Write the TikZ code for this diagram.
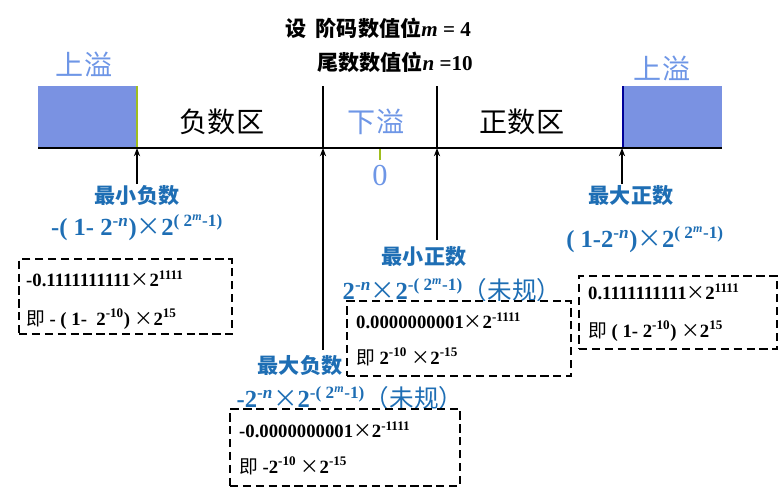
\documentclass[tikz,border=0pt]{standalone}
\usepackage{fontspec}
\setmainfont{Liberation Serif}
\newfontfamily\cjk{Noto Sans CJK SC}
\usetikzlibrary{arrows.meta}
\definecolor{dblue}{RGB}{30,110,180}
\definecolor{lblue}{RGB}{110,150,230}
\definecolor{rfill}{RGB}{122,146,226}
\definecolor{gtick}{RGB}{160,190,30}
\newcommand{\sps}[1]{\textsuperscript{#1}}
\newcommand{\tms}{{\cjk\mdseries ×}}
\tikzset{
  lbl/.style={font=\cjk\fontsize{24}{26}\selectfont},
  blbl/.style={font=\cjk\bfseries\fontsize{18}{20}\selectfont,text=dblue},
  frm/.style={font=\bfseries\fontsize{21}{23}\selectfont,text=dblue,inner sep=0pt},
  dbox/.style={draw,line width=1.8pt,dash pattern=on 7pt off 4pt,minimum width=#1,anchor=north west,inner sep=0pt},
  btx/.style={font=\bfseries\fontsize{16}{18}\selectfont,anchor=west},
  arr/.style={line width=1.4pt,-{Stealth[length=7pt]}},
}
\begin{document}
\begin{tikzpicture}[x=0.03cm,y=-0.03cm]
\useasboundingbox (0,0) rectangle (781,491);
\fill[rfill] (38,86) rectangle (137,148);
\fill[rfill] (622,86) rectangle (722,148);
\draw[gtick,line width=1pt] (137,86) -- (137,148);
\draw[blue!60!black,line width=2pt] (623,86) -- (623,148);
\draw[line width=2pt] (38,148) -- (722,148);
\draw[line width=2.4pt] (323,86) -- (323,148);
\draw[line width=2.4pt] (437,86) -- (437,148);
\draw[gtick,line width=2pt] (380,149) -- (380,160);
\node[text=lblue,font=\fontsize{26}{28}\selectfont] (zero) at (380,176) {0};
\coordinate (p1) at (137,148); \coordinate (p2) at (323,148);
\coordinate (p3) at (437,148); \coordinate (p4) at (622,148);
\coordinate (q1) at (137,184); \coordinate (q2) at (323,350);
\coordinate (q3) at (437,240); \coordinate (q4) at (622,184);
\draw[arr] (q1) -- (p1);
\draw[arr] (q2) -- (p2);
\draw[arr] (q3) -- (p3);
\draw[arr] (q4) -- (p4);
\node[lbl,text=lblue] (ov1) at (84,64) {上溢};
\node[lbl,text=lblue] (ov2) at (662,68) {上溢};
\node[lbl] (neg) at (222,122) {负数区};
\node[lbl,text=lblue] (un) at (376,122) {下溢};
\node[lbl] (pos) at (522,122) {正数区};
\node[font=\bfseries\fontsize{18}{20}\selectfont] (t1) at (378,28) {{\cjk 设\ \ 阶码数值位}\textit{m} = 4};
\node[font=\bfseries\fontsize{18}{20}\selectfont] (t2) at (395,62) {{\cjk 尾数数值位}\textit{n} =10};
% min neg
\node[blbl] (l1) at (137,196) {最小负数};
\node[frm] (f1) at (137,228) {-( 1- 2\sps{-\textit{n}})\tms2\sps{( 2\sps{\textit{m}}-1)}};
\node[dbox=6.39cm,minimum height=2.25cm] (b1) at (18,258) {};
\node[btx] at (22,279) {-0.1111111111\tms2\sps{1111}};
\node[btx] at (22,319) {{\cjk\mdseries 即} - ( 1-\ \ 2\sps{-10}) \tms2\sps{15}};
% min pos
\node[blbl] (l2) at (424,257) {最小正数};
\node[frm] (f2) at (452,290) {2\sps{-\textit{n}}\tms2\sps{-( 2\sps{\textit{m}}-1)}{\cjk\mdseries （未规）}};
\node[dbox=6.72cm,minimum height=2.25cm,fill=white] (b2) at (346,300) {};
\node[btx] at (352,321) {0.0000000001\tms2\sps{-1111}};
\node[btx] at (352,357) {{\cjk\mdseries 即} 2\sps{-10} \tms2\sps{-15}};
% max neg
\node[blbl] (l3) at (300,366) {最大负数};
\node[frm] (f3) at (350,398) {-2\sps{-\textit{n}}\tms2\sps{-( 2\sps{\textit{m}}-1)}{\cjk\mdseries （未规）}};
\node[dbox=6.9cm,minimum height=2.31cm] (b3) at (229,408) {};
\node[btx] at (235,430) {-0.0000000001\tms2\sps{-1111}};
\node[btx] at (235,466) {{\cjk\mdseries 即} -2\sps{-10} \tms2\sps{-15}};
% max pos
\node[blbl] (l4) at (631,196) {最大正数};
\node[frm] (f4) at (645,240) {( 1-2\sps{-\textit{n}})\tms2\sps{( 2\sps{\textit{m}}-1)}};
\node[dbox=5.94cm,minimum height=2.19cm] (b4) at (578,275) {};
\node[btx] at (584,292) {0.1111111111\tms2\sps{1111}};
\node[btx] at (584,331) {{\cjk\mdseries 即} ( 1- 2\sps{-10}) \tms2\sps{15}};
\end{tikzpicture}
\end{document}
